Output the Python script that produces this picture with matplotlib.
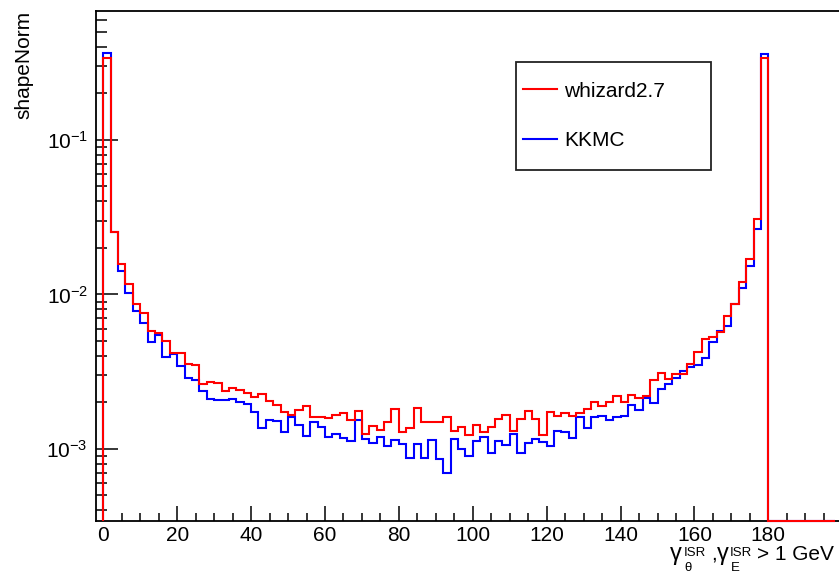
"""
ISR photon polar angle, whizard2.7 vs KKMC (shape-normalised, log y).
Histogram 0..198 in 2-unit bins; bins above 180 are empty.
"""

import numpy as np
import matplotlib
matplotlib.use('Agg')
import matplotlib.pyplot as plt
from matplotlib.ticker import MultipleLocator, LogLocator
from matplotlib.patches import Rectangle
from matplotlib.lines import Line2D

FONT = 'Liberation Sans'
plt.rcParams.update({
    'font.family': FONT, 'font.size': 15,
    'mathtext.fontset': 'custom', 'mathtext.rm': FONT,
    'mathtext.it': FONT + ':italic', 'mathtext.bf': FONT + ':bold',
    'figure.facecolor': 'white', 'axes.facecolor': 'white',
})

W, H = 839, 573
BIN_EDGES = np.arange(0, 200, 2)          # 0, 2, ..., 198
YMIN, YMAX = 3.43e-4, 0.687

# whizard2.7 (red), 99 bins from 0 to 198
whizard = [
    0.341, 0.0255, 0.01575, 0.01169, 0.00872, 0.00762, 0.00583, 0.00561, 0.00500, 0.00416,
    0.00420, 0.00357, 0.00350, 0.00263, 0.00273, 0.00269, 0.00238, 0.00249, 0.00241, 0.00229,
    0.00218, 0.00228, 0.00205, 0.00191, 0.00174, 0.00166, 0.00179, 0.00190, 0.00160, 0.00162,
    0.00158, 0.00166, 0.00172, 0.00153, 0.00176, 0.00124, 0.00141, 0.00133, 0.00150, 0.00181,
    0.00129, 0.00136, 0.00185, 0.00149, 0.00149, 0.00149, 0.00162, 0.00131, 0.00139, 0.00123,
    0.00143, 0.00129, 0.00139, 0.00156, 0.00166, 0.00131, 0.00156, 0.00177, 0.00157, 0.00123,
    0.00174, 0.00164, 0.00171, 0.00164, 0.00170, 0.00182, 0.00201, 0.00190, 0.00201, 0.00221,
    0.00202, 0.00224, 0.00213, 0.00221, 0.00280, 0.00312, 0.00284, 0.00306, 0.00306, 0.00353,
    0.00426, 0.00515, 0.00533, 0.00574, 0.00729, 0.00868, 0.01199, 0.01690, 0.0308, 0.338,
    0.0, 0.0, 0.0, 0.0, 0.0, 0.0, 0.0, 0.0, 0.0,
]

# KKMC (blue)
kkmc = [
    0.364, 0.0255, 0.01426, 0.01023, 0.00781, 0.00657, 0.00495, 0.00547, 0.00396, 0.00412,
    0.00346, 0.00287, 0.00280, 0.00238, 0.00210, 0.00208, 0.00208, 0.00211, 0.00201, 0.00194,
    0.00173, 0.00136, 0.00153, 0.00152, 0.00128, 0.00162, 0.00143, 0.00122, 0.00150, 0.00138,
    0.00120, 0.00124, 0.00117, 0.00113, 0.00154, 0.00116, 0.00109, 0.00120, 0.00104, 0.00114,
    0.00108, 0.000879, 0.00108, 0.000871, 0.00114, 0.000858, 0.000696, 0.00116, 0.000996, 0.000905,
    0.00113, 0.00119, 0.000938, 0.00113, 0.00106, 0.00125, 0.000938, 0.00109, 0.00116, 0.00111,
    0.00105, 0.00131, 0.00129, 0.00118, 0.00162, 0.00136, 0.00160, 0.00164, 0.00154, 0.00162,
    0.00164, 0.00191, 0.00179, 0.00213, 0.00198, 0.00244, 0.00263, 0.00287, 0.00320, 0.00338,
    0.00350, 0.00386, 0.00491, 0.00580, 0.00628, 0.00868, 0.01107, 0.01529, 0.0265, 0.359,
    0.0, 0.0, 0.0, 0.0, 0.0, 0.0, 0.0, 0.0, 0.0,
]

labels = ['whizard2.7', 'KKMC']
colors = ['#ff0000', '#0000ff']

fig = plt.figure(figsize=(W / 100, H / 100), dpi=100)
# frame runs off the right edge of the canvas, like the cropped ROOT pad
ax = fig.add_axes([0.1143, 0.0913, 0.8865, 0.8900])

# empty bins sit on the frame bottom, as ROOT draws them on a log axis
for name, vals, col in [(labels[1], kkmc, colors[1]), (labels[0], whizard, colors[0])]:
    v = np.asarray(vals)
    v = np.where(v > 0, v, YMIN)
    ax.stairs(v, BIN_EDGES, baseline=YMIN, color=col, lw=1.5,
              zorder=3, clip_on=False, label=name)

ax.set_yscale('log')
ax.set_xlim(-2, 199.3)
ax.set_ylim(YMIN, YMAX)

ax.xaxis.set_major_locator(MultipleLocator(20))
ax.xaxis.set_minor_locator(MultipleLocator(5))
ax.yaxis.set_major_locator(LogLocator(base=10))
ax.yaxis.set_minor_locator(LogLocator(base=10, subs=np.arange(2, 10)))

ax.tick_params(which='both', direction='in', top=False, right=False,
               width=1.1, colors='black', labelsize=15)
ax.tick_params(axis='y', which='major', length=15.6, pad=5.8)
ax.tick_params(axis='y', which='minor', length=7.7)
ax.tick_params(axis='x', which='major', length=10.8, pad=4.0)
ax.tick_params(axis='x', which='minor', length=5.6)

for side in ['left', 'bottom', 'top']:
    ax.spines[side].set_linewidth(1.3)
    ax.spines[side].set_color('black')
ax.spines['right'].set_visible(False)

ax.set_ylabel('shapeNorm', fontsize=15, loc='top')
ax.yaxis.set_label_coords(-0.0843, 1.0)

# x title, TLatex-like: gamma_theta^ISR , gamma_E^ISR > 1 GeV
def ptext(x, y, s, size, **kw):
    fig.text(x / W, 1 - y / H, s, fontsize=size, va='baseline', **kw)

ptext(670, 560, 'γ', 17)
ptext(684, 556, 'ISR', 9.5)
ptext(684, 571, 'θ', 9.5)
ptext(711, 560, ',', 15)
ptext(717, 560, 'γ', 17)
ptext(730, 556, 'ISR', 9.5)
ptext(731, 571, 'E', 9.5)
ptext(834, 560, '> 1 GeV', 15, ha='right')

# legend: ROOT-style box drawn separately, entries placed inside
fig.patches.append(Rectangle((515.7 / W, 1 - 170 / H), 195.3 / W, 108.3 / H,
                             transform=fig.transFigure, facecolor='white',
                             edgecolor='#222222', lw=1.3, zorder=5))
leg_handles = [Line2D([], [], color=c, lw=1.5) for c in colors]
leg = fig.legend(leg_handles, labels, loc='center left',
                 bbox_to_anchor=(522.7 / W, 1 - 115.85 / H),
                 bbox_transform=fig.transFigure, frameon=False,
                 fontsize=15, handlelength=1.63, handletextpad=0.35,
                 borderpad=0, borderaxespad=0, labelspacing=1.45)
leg.set_zorder(6)

fig.savefig('out.png', dpi=100, facecolor='white')
